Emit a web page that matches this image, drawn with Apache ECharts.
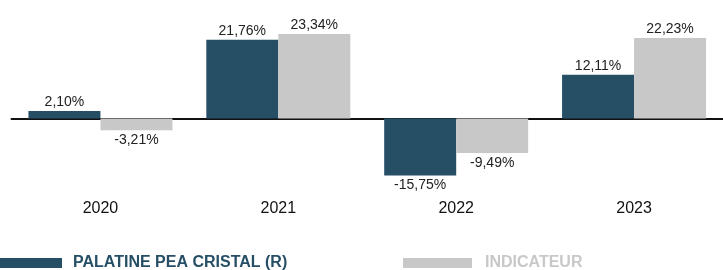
<!DOCTYPE html>
<html>
<head>
<meta charset="utf-8">
<script src="https://cdn.jsdelivr.net/npm/echarts@6/dist/echarts.min.js"></script>
<style>
  html, body { margin: 0; padding: 0; background: #fff; }
  #chart { width: 723px; height: 270px; }
</style>
</head>
<body>
<div id="chart"></div>
<script>
const years = ['2020', '2021', '2022', '2023']
const fundName = 'PALATINE PEA CRISTAL (R)'
const indexName = 'INDICATEUR'
const fundValues = [2.10, 21.76, -15.75, 12.11]
const indexValues = [-3.21, 23.34, -9.49, 22.23]

const fundColor = '#264f66'
const indexColor = '#c8c8c8'

// negative values get their label under the bar
const toData = (values) =>
  values.map((v) => ({
    value: v,
    label: { position: v < 0 ? 'bottom' : 'top', distance: v < 0 ? 3 : 2 },
  }))

const fmt = (p) => p.value.toFixed(2).replace('.', ',') + '%'

const chart = echarts.init(document.getElementById('chart'))

chart.setOption({
  animation: false,
  textStyle: { fontFamily: '"Liberation Sans", Arial, sans-serif' },
  legend: [
    {
      left: 0,
      top: 255,
      padding: 0,
      itemWidth: 62,
      itemHeight: 10,
      icon: 'rect',
      data: [{ name: fundName, textStyle: { color: fundColor } }],
      textStyle: { fontSize: 16, fontWeight: 'bold', padding: [0, 0, 0, 6] },
    },
    {
      left: 403,
      top: 255,
      padding: 0,
      itemWidth: 69,
      itemHeight: 10,
      icon: 'rect',
      data: [{ name: indexName, textStyle: { color: indexColor } }],
      textStyle: { fontSize: 16, fontWeight: 'bold', padding: [0, 0, 0, 8] },
    },
  ],
  grid: { left: 11.5, top: 28, width: 715, height: 163 },
  xAxis: [
    {
      type: 'category',
      data: years,
      axisLine: { onZero: true, lineStyle: { color: '#111', width: 2 } },
      axisTick: { show: false },
      axisLabel: { show: false },
    },
    {
      type: 'category',
      data: years,
      position: 'bottom',
      axisLine: { show: false },
      axisTick: { show: false },
      axisLabel: { color: '#111', fontSize: 16, margin: 10 },
    },
  ],
  yAxis: {
    type: 'value',
    min: -20,
    max: 25,
    show: false,
    splitLine: { show: false },
  },
  series: [
    {
      name: fundName,
      type: 'bar',
      xAxisIndex: 0,
      barWidth: 72,
      barGap: '0%',
      itemStyle: { color: fundColor },
      label: { show: true, color: '#222', fontSize: 14, formatter: fmt },
      data: toData(fundValues),
    },
    {
      name: indexName,
      type: 'bar',
      xAxisIndex: 0,
      barWidth: 72,
      barGap: '0%',
      itemStyle: { color: indexColor },
      label: { show: true, color: '#222', fontSize: 14, formatter: fmt },
      data: toData(indexValues),
    },
  ],
})
</script>
</body>
</html>
